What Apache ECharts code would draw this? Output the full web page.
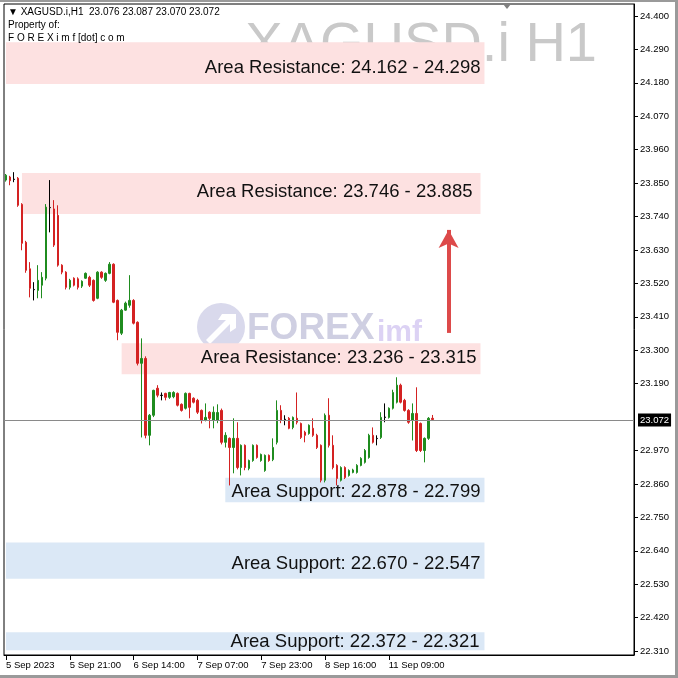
<!DOCTYPE html>
<html>
<head>
<meta charset="utf-8">
<script src="https://cdn.jsdelivr.net/npm/echarts@6/dist/echarts.min.js"></script>
<style>
html,body{margin:0;padding:0;background:#fff;}
#chart{width:678px;height:678px;}
</style>
</head>
<body>
<div id="chart"></div>
<script>
// ---- data ----
var opens  = [23.860,23.870,23.862,23.866,23.780,23.655,23.568,23.500,23.497,23.514,23.537,23.770,23.765,23.744,23.580,23.557,23.507,23.537,23.535,23.511,23.537,23.540,23.530,23.471,23.557,23.530,23.553,23.583,23.464,23.356,23.432,23.448,23.464,23.392,23.257,23.273,23.020,23.086,23.175,23.152,23.158,23.145,23.147,23.158,23.122,23.109,23.158,23.142,23.135,23.102,23.069,23.096,23.069,23.070,23.102,22.997,23.010,22.980,23.010,22.914,22.987,22.911,22.937,22.987,22.937,22.904,22.954,22.940,22.997,23.102,23.072,23.076,23.046,23.076,23.059,23.030,23.026,23.043,23.020,22.987,22.872,23.086,22.987,22.921,22.872,22.914,22.888,22.898,22.898,22.921,22.931,22.947,23.020,23.010,23.013,23.079,23.079,23.109,23.129,23.185,23.135,23.102,23.069,23.092,23.059,22.970,23.010,23.076];
var closes = [23.876,23.858,23.863,23.777,23.652,23.563,23.504,23.499,23.530,23.540,23.771,23.769,23.646,23.580,23.557,23.507,23.530,23.514,23.507,23.527,23.553,23.514,23.464,23.557,23.540,23.553,23.583,23.458,23.359,23.432,23.455,23.464,23.389,23.257,23.273,23.020,23.086,23.168,23.152,23.151,23.145,23.161,23.161,23.119,23.102,23.158,23.112,23.129,23.096,23.069,23.079,23.076,23.096,23.095,22.997,23.020,22.980,23.010,22.914,22.987,22.914,22.937,22.987,22.947,22.957,22.954,22.937,22.980,23.102,23.069,23.073,23.043,23.079,23.063,23.013,23.020,23.053,23.020,22.980,22.872,23.086,22.987,22.914,22.878,22.914,22.881,22.904,22.906,22.921,22.944,22.970,23.020,22.997,23.009,23.079,23.080,23.109,23.161,23.185,23.129,23.102,23.063,23.092,22.970,22.970,23.010,23.076,23.072];
var lows   = [23.855,23.843,23.853,23.772,23.629,23.555,23.474,23.464,23.471,23.471,23.530,23.688,23.640,23.575,23.550,23.500,23.500,23.510,23.500,23.505,23.535,23.508,23.460,23.468,23.535,23.525,23.550,23.455,23.333,23.350,23.430,23.440,23.385,23.250,23.013,23.010,22.987,23.080,23.145,23.135,23.135,23.140,23.142,23.115,23.098,23.105,23.076,23.125,23.090,23.059,23.066,23.043,23.043,23.060,22.990,22.980,22.855,22.895,22.908,22.888,22.905,22.905,22.933,22.943,22.933,22.900,22.933,22.935,22.990,23.060,23.053,23.040,23.040,23.056,23.008,22.997,23.022,23.015,22.975,22.865,22.865,22.980,22.908,22.855,22.868,22.876,22.884,22.895,22.894,22.918,22.927,22.943,22.993,22.987,23.008,23.063,23.075,23.105,23.125,23.125,23.098,23.058,23.003,22.965,22.965,22.931,23.005,23.070];
var highs  = [23.880,23.874,23.886,23.870,23.784,23.660,23.590,23.524,23.580,23.557,23.781,23.860,23.794,23.777,23.583,23.560,23.535,23.540,23.540,23.530,23.556,23.545,23.533,23.560,23.560,23.556,23.590,23.586,23.467,23.436,23.460,23.547,23.468,23.395,23.339,23.280,23.090,23.170,23.185,23.161,23.160,23.163,23.165,23.161,23.125,23.161,23.160,23.145,23.140,23.105,23.125,23.099,23.115,23.122,23.108,23.030,23.013,23.076,23.063,22.990,22.990,22.940,22.990,22.990,22.960,22.957,22.957,23.010,23.135,23.119,23.086,23.080,23.082,23.161,23.062,23.035,23.056,23.076,23.025,22.990,23.092,23.142,23.020,22.925,22.918,22.918,22.908,22.910,22.925,22.948,22.975,23.025,23.046,23.020,23.096,23.125,23.112,23.170,23.211,23.190,23.140,23.106,23.125,23.178,23.062,23.013,23.080,23.087];

var slotCount = 158;                       // bars that fit in the window (incl. empty right shift)
var xTickIndex  = [0, 16, 32, 48, 64, 80, 96];
var xTickLabels = ['5 Sep 2023','5 Sep 21:00','6 Sep 14:00','7 Sep 07:00','7 Sep 23:00','8 Sep 16:00','11 Sep 09:00'];
var yTickValues = [24.400,24.290,24.180,24.070,23.960,23.850,23.740,23.630,23.520,23.410,23.300,23.190,22.970,22.860,22.750,22.640,22.530,22.420,22.310];
var lastPrice = 23.072;

var zoneLabels = ['Area Resistance: 24.162 - 24.298','Area Resistance: 23.746 - 23.885','Area Resistance: 23.236 - 23.315',
                  'Area Support: 22.878 - 22.799','Area Support: 22.670 - 22.547','Area Support: 22.372 - 22.321'];
var zoneLow   = [24.176, 23.748, 23.221, 22.800, 22.548, 22.313];
var zoneHigh  = [24.314, 23.883, 23.323, 22.880, 22.667, 22.372];
var zoneStart = [0, 4, 29, 55, 0, 0];
var zoneEnd   = [120, 119, 119, 120, 120, 120];
var zoneKind  = ['r','r','r','s','s','s'];

var arrowBar = 111, arrowFrom = 23.357, arrowTo = 23.696;

// ---- styling (kept apart from the data) ----
var zoneLabelDy   = [5, -2, -1, 2, 3, 1];
var zoneLabelDist = [4, 8, 4, 4, 4, 5];

// ---- build ----
var cats = [];
for (var i = 0; i < slotCount; i++) cats.push(String(i));

var UP = '#1f8c1f', DOWN = '#d42222';
var candles = opens.map(function (o, i) {
  var item = { value: [o, closes[i], lows[i], highs[i]] };
  if (Math.abs(o - closes[i]) < 0.002) {
    item.itemStyle = { color: '#000', color0: '#000', borderColor: '#000', borderColor0: '#000' };
  }
  return item;
});

var areas = zoneLabels.map(function (t, k) {
  var res = zoneKind[k] === 'r';
  return [
    { xAxis: String(zoneStart[k]), yAxis: zoneLow[k],
      itemStyle: { color: res ? '#fde1e1' : '#dbe8f6' },
      label: { show: true, position: 'insideRight', distance: zoneLabelDist[k], offset: [0, zoneLabelDy[k]], formatter: t,
               fontFamily: 'Liberation Sans, Arial, sans-serif', fontSize: 18.5, color: '#111' } },
    { xAxis: String(zoneEnd[k]), yAxis: zoneHigh[k] }
  ];
});

var tickFn = function (idx) { return xTickIndex.indexOf(idx) >= 0; };
var smallFont = 'Liberation Sans, Arial, sans-serif';

var chart = echarts.init(document.getElementById('chart'), null, { renderer: 'canvas' });
chart.setOption({
  animation: false,
  backgroundColor: '#fff',
  grid: { left: 4, right: 44, top: 4, bottom: 23, show: true, borderColor: '#000', borderWidth: 1, backgroundColor: 'transparent' },
  xAxis: {
    type: 'category', data: cats, boundaryGap: true,
    axisLine: { show: true, lineStyle: { color: '#000' } },
    axisTick: { show: true, alignWithLabel: true, interval: tickFn, length: 5, lineStyle: { color: '#000' } },
    axisLabel: {
      interval: tickFn, align: 'left', margin: 5, fontSize: 9.5, color: '#000', fontFamily: smallFont,
      formatter: function (v) { var k = xTickIndex.indexOf(Number(v)); return k >= 0 ? xTickLabels[k] : ''; }
    },
    splitLine: { show: false }
  },
  yAxis: {
    type: 'value', position: 'right', min: 22.297, max: 24.4395, scale: true,
    axisLine: { show: true, lineStyle: { color: '#000' } },
    axisTick: { show: true, length: 4, customValues: yTickValues, lineStyle: { color: '#000' } },
    axisLabel: { customValues: yTickValues, margin: 6, fontSize: 9.5, color: '#000', fontFamily: smallFont,
                 formatter: function (v) { return v.toFixed(3); } },
    splitLine: { show: false }
  },
  graphic: [
    { type: 'rect', z: -10, silent: true, shape: { x: 0, y: 0, width: 678, height: 2 }, style: { fill: '#9a9a9a' } },
    { type: 'rect', z: -10, silent: true, shape: { x: 675, y: 0, width: 3, height: 678 }, style: { fill: '#9a9a9a' } },
    { type: 'rect', z: -10, silent: true, shape: { x: 0, y: 675, width: 678, height: 3 }, style: { fill: '#9a9a9a' } },
    // FOREXimf watermark logo
    { type: 'circle', z: -5, silent: true, shape: { cx: 221, cy: 327, r: 24 }, style: { fill: '#d9d9ec' } },
    { type: 'polygon', z: -4, silent: true, shape: { points: [[206,340],[226,320],[218,320],[222,314],[236,314],[236,328],[230,332],[230,324],[210,344]] }, style: { fill: '#ffffff' } },
    { type: 'text', z: -4, silent: true, x: 247, y: 329,
      style: { text: 'FOREX', font: 'bold 37px Liberation Sans, Arial, sans-serif', fill: '#cfcfe2', textVerticalAlign: 'middle' } },
    { type: 'text', z: -4, silent: true, x: 377, y: 333,
      style: { text: 'imf', font: 'bold 30px Liberation Sans, Arial, sans-serif', fill: '#dcd2f4', textVerticalAlign: 'middle' } },
    // symbol watermark
    { type: 'text', z: -3, silent: true, x: 597, y: 46,
      style: { text: 'XAGUSD.i H1', font: '56px Liberation Sans, Arial, sans-serif', fill: '#c9c9c9', textAlign: 'right', textVerticalAlign: 'middle' } },
    // shift marker
    { type: 'polygon', z: 10, silent: true, shape: { points: [[503,4],[511,4],[507,9]] }, style: { fill: '#808080' } },
    // header
    { type: 'text', z: 10, silent: true, x: 8, y: 12,
      style: { text: '\u25BC XAGUSD.i,H1  23.076 23.087 23.070 23.072', font: '10px Liberation Sans, Arial, sans-serif', fill: '#000', textVerticalAlign: 'middle' } },
    { type: 'text', z: 10, silent: true, x: 8, y: 25,
      style: { text: 'Property of:', font: '10px Liberation Sans, Arial, sans-serif', fill: '#000', textVerticalAlign: 'middle' } },
    { type: 'text', z: 10, silent: true, x: 8, y: 38,
      style: { text: 'F O R E X i m f [dot] c o m', font: '10px Liberation Sans, Arial, sans-serif', fill: '#000', textVerticalAlign: 'middle' } }
  ],
  series: [{
    type: 'candlestick',
    data: candles,
    barWidth: 2,
    itemStyle: { color: UP, color0: DOWN, borderColor: UP, borderColor0: DOWN, borderWidth: 1 },
    markArea: { silent: true, data: areas },
    markLine: {
      silent: true, animation: false, symbol: ['none', 'none'],
      data: [
        { yAxis: lastPrice,
          lineStyle: { color: '#8a8a8a', width: 1, type: 'solid' },
          label: { show: true, position: 'end', distance: 4, formatter: lastPrice.toFixed(3),
                   backgroundColor: '#000', color: '#fff', padding: [2, 2, 1, 2], fontSize: 9.5, fontFamily: smallFont } },
        [
          { coord: [String(arrowBar), arrowFrom], symbol: 'none',
            lineStyle: { color: '#dd4a4a', width: 4, type: 'solid' }, label: { show: false } },
          { coord: [String(arrowBar), arrowTo], symbol: 'arrow', symbolSize: [15, 18] }
        ]
      ]
    }
  }]
});
</script>
</body>
</html>
